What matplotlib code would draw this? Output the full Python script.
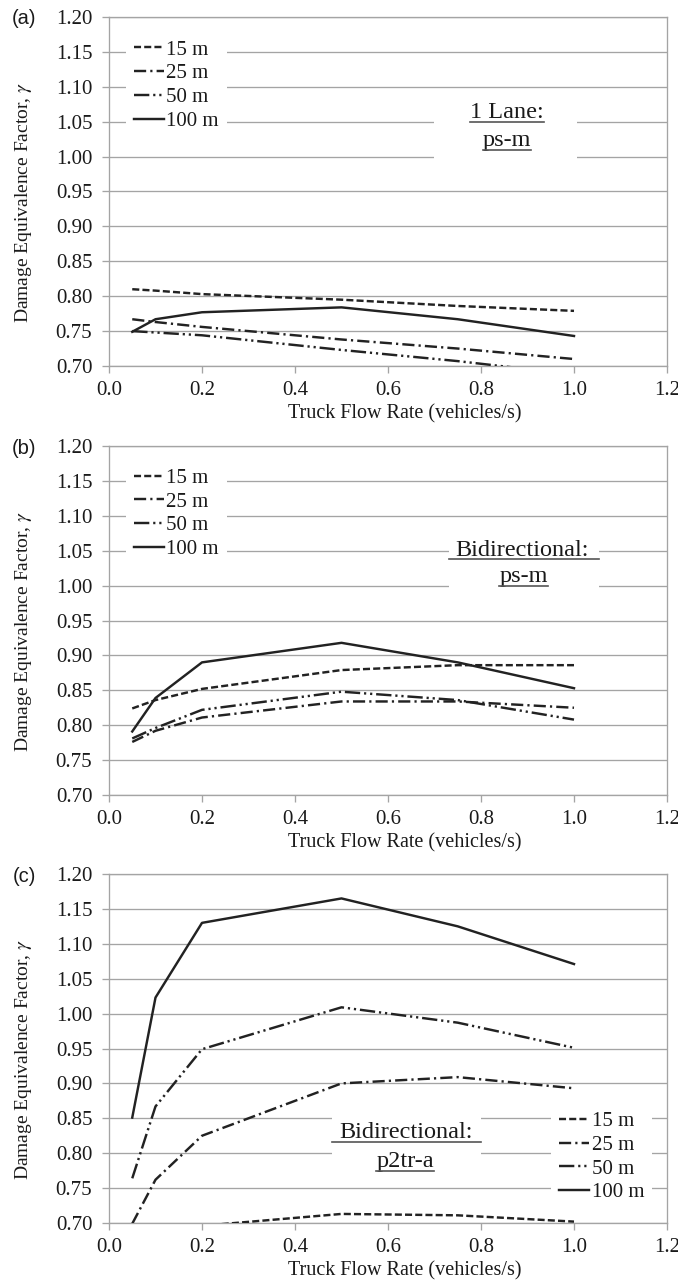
import matplotlib
matplotlib.use("Agg")
import matplotlib.pyplot as plt
from matplotlib.patches import Rectangle
from matplotlib.lines import Line2D

plt.rcParams['font.family'] = ['Liberation Serif', 'DejaVu Serif']
plt.rcParams['mathtext.fontset'] = 'stix'

# ---------------- data ----------------
flow = [0.05, 0.1, 0.2, 0.5, 0.75, 1.0]
series_labels = ["15 m", "25 m", "50 m", "100 m"]

a_15 = [0.810, 0.808, 0.803, 0.795, 0.786, 0.779]
a_25 = [0.767, 0.763, 0.756, 0.738, 0.725, 0.710]
a_50 = [0.750, 0.748, 0.744, 0.723, 0.707, 0.688]
a_100 = [0.749, 0.767, 0.777, 0.784, 0.767, 0.743]

b_15 = [0.824, 0.836, 0.852, 0.879, 0.886, 0.886]
b_25 = [0.776, 0.792, 0.811, 0.834, 0.834, 0.825]
b_50 = [0.781, 0.796, 0.822, 0.848, 0.836, 0.808]
b_100 = [0.791, 0.839, 0.890, 0.918, 0.890, 0.853]

c_15 = [0.670, 0.680, 0.696, 0.713, 0.711, 0.702]
c_25 = [0.699, 0.762, 0.825, 0.900, 0.909, 0.893]
c_50 = [0.764, 0.867, 0.949, 1.009, 0.987, 0.951]
c_100 = [0.851, 1.023, 1.130, 1.165, 1.125, 1.071]

x_ticks = [0.0, 0.2, 0.4, 0.6, 0.8, 1.0, 1.2]
y_ticks = [0.70, 0.75, 0.80, 0.85, 0.90, 0.95, 1.00, 1.05, 1.10, 1.15, 1.20]
panel_tags = ["(a)", "(b)", "(c)"]
box_texts = [("1 Lane:", "ps-m"), ("Bidirectional:", "ps-m"), ("Bidirectional:", "p2tr-a")]

# ---------------- styling ----------------
W, H = 678, 1282
fig = plt.figure(figsize=(W / 100, H / 100), dpi=100)

line_col = '#222222'
grid_col = '#a4a4a4'
txt_col = '#1a1a1a'
lw = 1.75
styles = [(0, (2.9, 1.3)), (0, (5.0, 1.7, 0.9, 1.7)),
          (0, (6.3, 1.6, 0.9, 1.6, 0.9, 1.6)), 'solid']

ax_left, ax_right = 109, 667
panel_tops = [17, 446, 874]
ax_h = 349

panels = [
    dict(series=[a_15, a_25, a_50, a_100], leg=(0.030, 0.958),
         box=(0.582, 0.56, 0.256, 0.225), t1=(0.713, 0.725), t2=(0.713, 0.645),
         full_ul=False),
    dict(series=[b_15, b_25, b_50, b_100], leg=(0.030, 0.960),
         box=(0.609, 0.56, 0.269, 0.214), t1=(0.741, 0.702), t2=(0.743, 0.625),
         full_ul=True),
    dict(series=[c_15, c_25, c_50, c_100], leg=(0.792, 0.343),
         box=(0.399, 0.14, 0.268, 0.227), t1=(0.533, 0.258), t2=(0.531, 0.175),
         full_ul=True),
]

underlines = []
for i, p in enumerate(panels):
    top = panel_tops[i]
    ax = fig.add_axes([ax_left / W, 1 - (top + ax_h) / H,
                       (ax_right - ax_left) / W, ax_h / H])
    ax.set_xlim(0, 1.2)
    ax.set_ylim(0.70, 1.20)
    ax.set_xticks(x_ticks)
    ax.set_yticks(y_ticks)
    ax.set_xticklabels([f"{v:.1f}" for v in x_ticks])
    ax.set_yticklabels([f"{v:.2f}" for v in y_ticks])
    ax.yaxis.grid(True, color=grid_col, lw=0.95)
    ax.set_axisbelow(True)
    for s in ax.spines.values():
        s.set_color(grid_col)
        s.set_linewidth(0.95)
    ax.tick_params(axis='both', which='both', length=5, width=0.95,
                   color=grid_col, labelsize=15, labelcolor=txt_col)
    ax.tick_params(axis='y', pad=7)
    ax.tick_params(axis='x', pad=6)

    handles = []
    for vals, st in zip(p['series'], styles):
        ln, = ax.plot(flow, vals, color=line_col, lw=lw, linestyle=st,
                      zorder=3)
        handles.append(ln)

    ax.set_ylabel("Damage Equivalence Factor, $\\gamma$", fontsize=14,
                  color=txt_col)
    ax.yaxis.set_label_coords(-0.154, 0.47)
    ax.yaxis.label.set_va('center')
    ax.set_xlabel("Truck Flow Rate (vehicles/s)", fontsize=14.5,
                  color=txt_col)
    ax.xaxis.set_label_coords(0.53, -0.137)
    ax.xaxis.label.set_va('center')

    leg = ax.legend(handles, series_labels, loc='upper left',
                    bbox_to_anchor=p['leg'], borderaxespad=0, frameon=True,
                    fancybox=False, facecolor='white', edgecolor='none',
                    framealpha=1, fontsize=15, handlelength=1.45,
                    handletextpad=0.1, labelspacing=0.2, borderpad=0.4)
    for t in leg.get_texts():
        t.set_color(txt_col)

    bx, by, bw, bh = p['box']
    ax.add_patch(Rectangle((bx, by), bw, bh, transform=ax.transAxes,
                           facecolor='white', edgecolor='none', zorder=1))
    l1, l2 = box_texts[i]
    t1 = ax.text(*p['t1'], l1, transform=ax.transAxes, ha='center',
                 va='center', fontsize=17.5, color=txt_col, zorder=4)
    t2 = ax.text(*p['t2'], l2, transform=ax.transAxes, ha='center',
                 va='center', fontsize=17.5, color=txt_col, zorder=4)
    underlines.append((ax, t1, (bx, bx + bw) if p['full_ul'] else None))
    underlines.append((ax, t2, None))

    fig.text(24 / W, 1 - (top + 2) / H, panel_tags[i], ha='center',
             va='center', fontsize=14.5,
             family=['Liberation Sans', 'DejaVu Sans'], color=txt_col)

fig.canvas.draw()
renderer = fig.canvas.get_renderer()
for ax, t, span in underlines:
    bb = t.get_window_extent(renderer)
    inv = ax.transAxes.inverted()
    (x0, y0), (x1, y1) = inv.transform([[bb.x0, bb.y0], [bb.x1, bb.y1]])
    if span is not None:
        x0, x1 = span
    ax.add_line(Line2D([x0, x1], [y0 + 0.004, y0 + 0.004],
                       transform=ax.transAxes, color='#555555', lw=1.2,
                       zorder=4, clip_on=False))

fig.savefig("out.png", dpi=100)
